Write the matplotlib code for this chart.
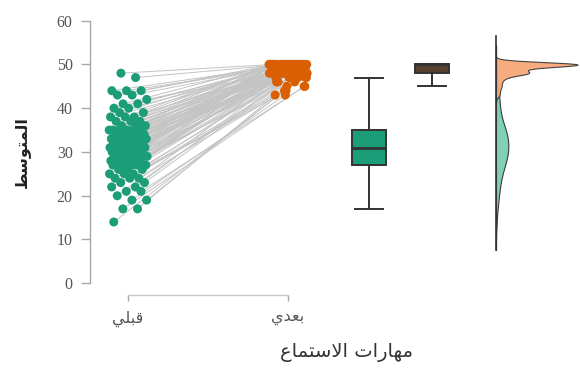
import numpy as np
import matplotlib
matplotlib.use("Agg")
import matplotlib.pyplot as plt

# Scores before ("pre") and after ("post") for each participant, paired by index
pre_scores = [14, 17, 17, 19, 19, 20, 21, 21, 22, 22,
              23, 23, 24, 24, 24, 25, 25, 25, 26, 26,
              26, 27, 27, 27, 27, 27, 27, 28, 28, 28,
              28, 28, 29, 29, 29, 29, 29, 29, 30, 30,
              30, 30, 30, 30, 31, 31, 31, 31, 31, 31,
              31, 31, 32, 32, 32, 32, 32, 32, 33, 33,
              33, 33, 33, 33, 34, 34, 34, 34, 34, 34,
              35, 35, 35, 35, 35, 35, 35, 36, 36, 36,
              37, 37, 37, 38, 38, 38, 39, 39, 40, 40,
              41, 41, 42, 43, 43, 44, 44, 44, 47, 48]
post_scores = [44, 43, 45, 46, 43, 47, 45, 48, 44, 46,
               47, 48, 45, 48, 47, 49, 48, 46, 48, 47,
               48, 50, 48, 49, 47, 48, 50, 48, 49, 48,
               50, 48, 49, 50, 48, 50, 49, 48, 50, 50,
               48, 50, 49, 50, 50, 48, 50, 49, 50, 50,
               48, 50, 50, 49, 50, 50, 48, 50, 50, 49,
               50, 50, 48, 50, 50, 50, 49, 50, 50, 50,
               48, 50, 50, 50, 49, 50, 50, 50, 50, 50,
               50, 49, 50, 50, 50, 50, 50, 50, 50, 50,
               50, 50, 49, 50, 50, 50, 50, 50, 50, 50]

# Arabic labels in presentation forms, laid out left-to-right for display
group_labels = ["\uFEF2\uFEE0\uFE92\uFED7",          # قبلي
                "\uFEF1\uFEAA\uFECC\uFE91"]          # بعدي
x_title = ("\uFEC9\uFE8E\uFEE4\uFE98\uFEB3\uFEFB\uFE8D "
           "\uFE95\uFE8D\uFEAD\uFE8E\uFEEC\uFEE3")    # مهارات الاستماع
y_title = "\uFEC2\uFEB3\uFEEE\uFE98\uFEE4\uFEDF\uFE8D"  # المتوسط
y_ticks = [0, 10, 20, 30, 40, 50, 60]

green = "#1b9e77"
orange = "#d95f02"
green_light = "#80d0b6"
orange_light = "#f6a878"
brown = "#57402e"
edge = "#333333"

pre = np.array(pre_scores, dtype=float)
post = np.array(post_scores, dtype=float)
n = len(pre)

fig = plt.figure(figsize=(5.8, 3.68), dpi=100)
ax = fig.add_axes([90 / 580, 1 - 296.4 / 368, 490 / 580, (296.4 - 11.9) / 368])
ax.set_xlim(0.7625, 3.825)
ax.set_ylim(-3, 62)

# deterministic horizontal jitter for the point clouds
idx = np.arange(n)
jit_pre = ((idx * 0.6180339887 + 0.13) % 1.0 - 0.5) * 0.24
jit_post = ((idx * 0.7548776662 + 0.41) % 1.0 - 0.5) * 0.24
x_pre = 1 + jit_pre
x_post = 2 + jit_post

# connecting lines between paired observations
for i in range(n):
    ax.plot([x_pre[i], x_post[i]], [pre[i], post[i]], color="#c4c4c4",
            lw=0.7, zorder=1)

ax.scatter(x_pre, pre, s=42, color=green, edgecolors="none", zorder=3)
ax.scatter(x_post, post, s=42, color=orange, edgecolors="none", zorder=3)

# box plots
box_w = 0.2125
bp = ax.boxplot([pre, post], positions=[2.506, 2.9], widths=box_w,
                patch_artist=True, showfliers=False, whis=1.5,
                capwidths=0.17, manage_ticks=False)
for patch, fc in zip(bp["boxes"], [green, brown]):
    patch.set_facecolor(fc)
    patch.set_edgecolor(edge)
    patch.set_linewidth(1.4)
for key in ("whiskers", "caps"):
    for ln in bp[key]:
        ln.set_color(edge)
        ln.set_linewidth(1.4)
for ln in bp["medians"]:
    ln.set_color(edge)
    ln.set_linewidth(2.0)


def bandwidth(values):
    sd = values.std(ddof=1)
    q75, q25 = np.percentile(values, [75, 25])
    return 0.9 * min(sd, (q75 - q25) / 1.34) * len(values) ** (-0.2)


def kde(values, grid):
    bw = bandwidth(values)
    z = (grid[:, None] - values[None, :]) / bw
    return np.exp(-0.5 * z ** 2).sum(axis=1) / (len(values) * bw * np.sqrt(2 * np.pi))


def support(values):
    bw = bandwidth(values)
    return np.linspace(values.min() - 3 * bw, values.max() + 3 * bw, 512)


g_pre = support(pre)
g_post = support(post)
d_pre = kde(pre, g_pre)
d_post = kde(post, g_post)

base = 3.30
scale = 0.51 / max(d_pre.max(), d_post.max())
ax.fill_betweenx(g_pre, base, base + d_pre * scale, facecolor=green_light,
                 edgecolor="#3a3a3a", lw=0.8, zorder=2)
ax.fill_betweenx(g_post, base, base + d_post * scale, facecolor=orange_light,
                 edgecolor="#3a3a3a", lw=0.8, zorder=2, alpha=0.95)
ax.plot([base, base], [min(g_pre.min(), g_post.min()), max(g_pre.max(), g_post.max()) + 2],
        color="#333333", lw=1.2, zorder=4)

# axes styling
for side in ("top", "right"):
    ax.spines[side].set_visible(False)
ax.spines["left"].set_bounds(0, 60)
ax.spines["left"].set_color("#a8a8a8")
ax.spines["left"].set_linewidth(1.0)
ax.spines["bottom"].set_position(("data", -2.7))
ax.spines["bottom"].set_bounds(1, 2)
ax.spines["bottom"].set_color("#c8c8c8")
ax.spines["bottom"].set_linewidth(1.0)

ax.set_yticks(y_ticks)
ax.set_yticklabels([str(v) for v in y_ticks], family="Liberation Serif",
                   fontsize=11.5, color="#555555")
ax.tick_params(axis="y", length=6.5, width=1.0, color="#a8a8a8", pad=6)
ax.set_xticks([1, 2])
ax.set_xticklabels(group_labels, family="DejaVu Sans", fontsize=11.5,
                   color="#555555")
ax.tick_params(axis="x", length=4, width=1.0, color="#a8a8a8", pad=7)

fig.text(346 / 580, 1 - 352 / 368, x_title, family="DejaVu Sans",
         fontsize=14, color="#333333", ha="center", va="center")
fig.text(22 / 580, 1 - 152 / 368, y_title, family="DejaVu Sans",
         fontsize=11.5, fontweight="bold", color="#222222", rotation=90,
         ha="center", va="center")

fig.savefig("out.png", dpi=100)
